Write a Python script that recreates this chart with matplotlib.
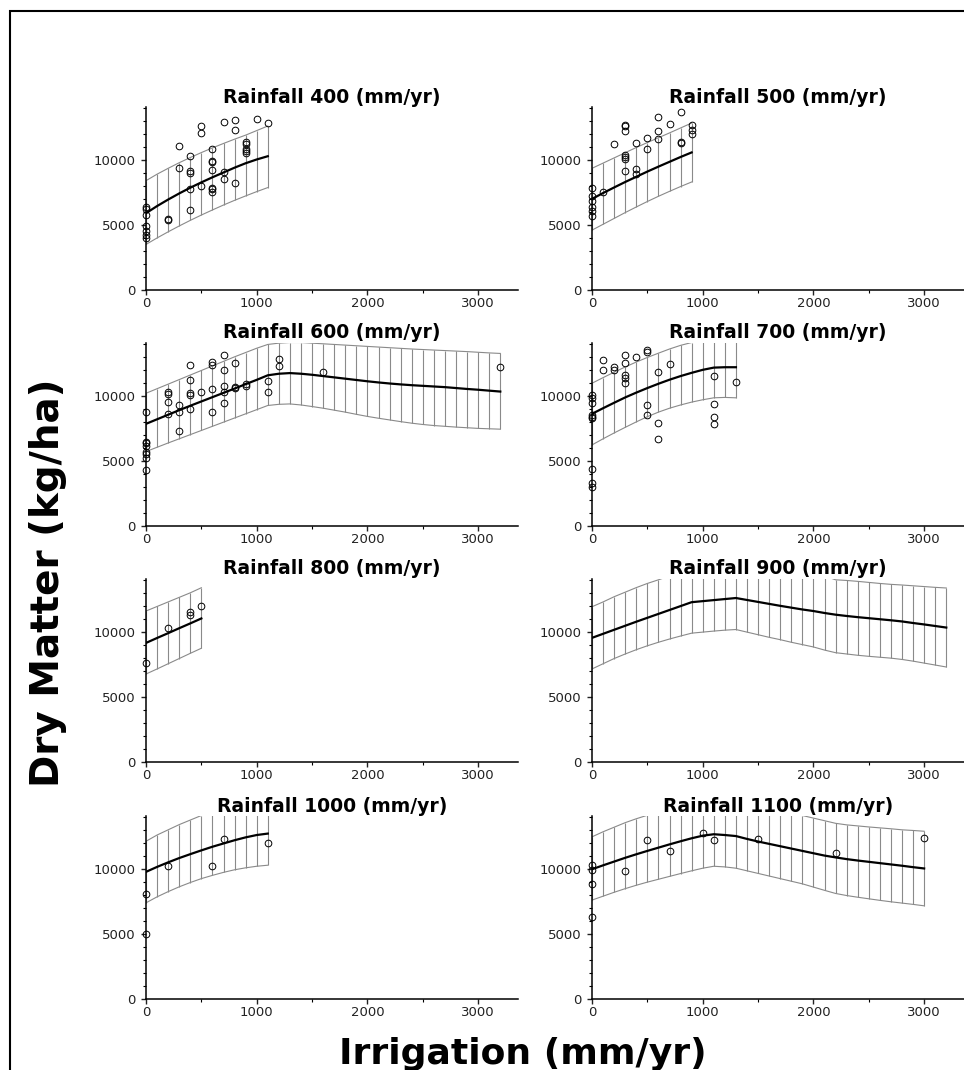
import numpy as np
import matplotlib
matplotlib.use("Agg")
import matplotlib.pyplot as plt
from matplotlib.patches import Rectangle
from matplotlib.ticker import MultipleLocator

# model grid and fitted response (kg/ha) for each rainfall level
grid_400 = np.arange(0, 1101, 100)
mean_400 = [5900, 6450, 6950, 7420, 7860, 8270, 8660, 9030, 9400, 9740, 10030, 10280]
upper_400 = [8400, 8900, 9350, 9780, 10180, 10560, 10920, 11260, 11590, 11900, 12250, 12600]
lower_400 = [3500, 4000, 4470, 4920, 5350, 5760, 6150, 6530, 6890, 7230, 7560, 7870]
obs_x_400 = [0, 0, 0, 0, 0, 0, 0, 200, 200, 300, 300, 400, 400, 400, 400, 400,
             500, 500, 500, 600, 600, 600, 600, 600, 600, 600, 700, 700, 700,
             800, 800, 800, 900, 900, 900, 900, 900, 1000, 1100]
obs_y_400 = [6400, 6200, 5800, 4900, 4500, 4200, 4000, 5480, 5350, 11030, 9380,
             10330, 9150, 9020, 7790, 6170, 12600, 12080, 8020, 10870, 9950, 9820,
             9230, 7870, 7760, 7560, 12930, 9050, 8560, 13060, 12260, 8230,
             11390, 11230, 10800, 10670, 10510, 13140, 12830]

grid_500 = np.arange(0, 901, 100)
mean_500 = [7000, 7450, 7880, 8300, 8700, 9100, 9480, 9850, 10220, 10570]
upper_500 = [9350, 9750, 10150, 10550, 10950, 11330, 11700, 12070, 12450, 12830]
lower_500 = [4600, 5050, 5500, 5950, 6380, 6800, 7200, 7580, 7950, 8300]
obs_x_500 = [0, 0, 0, 0, 0, 0, 100, 200, 300, 300, 300, 300, 300, 300, 300,
             400, 400, 400, 500, 500, 600, 600, 600, 700, 800, 800, 800, 900, 900, 900]
obs_y_500 = [7810, 7200, 6840, 6350, 6070, 5660, 7500, 11200, 12650, 12570, 12210,
             10390, 10230, 10100, 9130, 11290, 9330, 8920, 11670, 10870, 13320,
             12210, 11570, 12750, 13680, 11340, 11300, 12670, 12310, 11950]

grid_600 = np.arange(0, 3201, 100)
mean_600 = [7850, 8200, 8550, 8900, 9240, 9570, 9900, 10230, 10560, 10900, 11230,
            11580, 11700, 11750, 11700, 11620, 11520, 11420, 11320, 11220, 11120,
            11030, 10950, 10880, 10820, 10770, 10720, 10670, 10600, 10530, 10470,
            10400, 10330]
upper_600 = [10200, 10550, 10900, 11250, 11600, 11950, 12300, 12650, 13000, 13330,
             13660, 13950, 14050, 14100, 14100, 14050, 14000, 13950, 13900, 13850,
             13800, 13750, 13700, 13650, 13600, 13560, 13520, 13480, 13440, 13400,
             13350, 13300, 13260]
lower_600 = [5720, 6050, 6380, 6700, 7020, 7340, 7660, 7980, 8300, 8620, 8940, 9260,
             9350, 9380, 9300, 9180, 9050, 8900, 8750, 8580, 8420, 8280, 8150, 8020,
             7900, 7800, 7720, 7660, 7600, 7550, 7500, 7470, 7440]
obs_x_600 = [0, 0, 0, 0, 0, 0, 0, 0, 200, 200, 200, 200, 300, 300, 300,
             400, 400, 400, 400, 400, 500, 600, 600, 600, 600, 700, 700, 700, 700, 700,
             800, 800, 800, 900, 900, 1100, 1100, 1200, 1200, 1600, 3200]
obs_y_600 = [8790, 6490, 6360, 6180, 5720, 5510, 5210, 4310, 10280, 10180, 9540, 8590,
             9310, 8790, 7330, 12380, 11230, 10200, 10100, 9000, 10310, 12590, 12360,
             10490, 8790, 13130, 11950, 10770, 10310, 9460, 12510, 10690, 10620,
             10920, 10770, 11180, 10260, 12870, 12310, 11850, 12180]

grid_700 = np.arange(0, 1301, 100)
mean_700 = [8620, 9050, 9470, 9880, 10250, 10600, 10930, 11240, 11520, 11770, 12000,
            12170, 12200, 12200]
upper_700 = [10970, 11400, 11820, 12220, 12600, 12950, 13280, 13600, 13880, 14100,
             14200, 14300, 14350, 14350]
lower_700 = [6230, 6700, 7150, 7580, 8000, 8400, 8750, 9050, 9300, 9520, 9700, 9850,
             9880, 9850]
obs_x_700 = [0, 0, 0, 0, 0, 0, 0, 0, 0, 100, 100, 200, 200, 300, 300, 300, 300, 300,
             400, 500, 500, 500, 500, 600, 600, 600, 700, 1100, 1100, 1100, 1100, 1300]
obs_y_700 = [10030, 9820, 9440, 8540, 8410, 8280, 4410, 3280, 2970, 12720, 12000,
             12180, 11950, 13150, 12510, 11640, 11410, 10950, 12950, 13490, 13360,
             9260, 8510, 11870, 7950, 6720, 12460, 11490, 9360, 8410, 7870, 11080]

grid_800 = np.arange(0, 501, 100)
mean_800 = [9150, 9530, 9900, 10280, 10650, 11030]
upper_800 = [11600, 11950, 12300, 12650, 13000, 13390]
lower_800 = [6760, 7150, 7550, 7950, 8350, 8740]
obs_x_800 = [0, 200, 400, 400, 500]
obs_y_800 = [7630, 10260, 11540, 11280, 12000]

grid_900 = np.arange(0, 3201, 100)
mean_900 = [9540, 9850, 10160, 10470, 10780, 11080, 11380, 11680, 11980, 12280,
            12360, 12440, 12520, 12600, 12450, 12300, 12150, 12000, 11860, 11720,
            11600, 11450, 11320, 11220, 11130, 11050, 10970, 10890, 10800, 10680,
            10570, 10450, 10330]
upper_900 = [11930, 12300, 12700, 13050, 13400, 13720, 14000, 14300, 14300, 14300,
             14300, 14300, 14300, 14300, 14300, 14300, 14300, 14300, 14300, 14300,
             14300, 14300, 14000, 13950, 13880, 13800, 13720, 13650, 13600, 13540,
             13480, 13420, 13370]
lower_900 = [7150, 7550, 7950, 8300, 8630, 8930, 9200, 9450, 9680, 9900, 9980, 10060,
             10130, 10180, 9980, 9780, 9580, 9400, 9200, 9020, 8840, 8600, 8400, 8300,
             8200, 8120, 8050, 7980, 7880, 7750, 7600, 7450, 7300]
obs_x_900 = []
obs_y_900 = []

grid_1000 = np.arange(0, 1101, 100)
mean_1000 = [9770, 10150, 10500, 10830, 11130, 11420, 11700, 11950, 12200, 12420,
             12600, 12710]
upper_1000 = [12120, 12600, 13000, 13400, 13750, 14100, 14300, 14400, 14450, 14500,
              14500, 14500]
lower_1000 = [7390, 7850, 8250, 8620, 8950, 9250, 9500, 9730, 9930, 10080, 10200, 10280]
obs_x_1000 = [0, 0, 200, 600, 700, 1100]
obs_y_1000 = [8080, 5010, 10200, 10200, 12330, 11970]

grid_1100 = np.arange(0, 3001, 100)
mean_1100 = [9970, 10270, 10560, 10850, 11120, 11380, 11630, 11880, 12120, 12350,
             12550, 12660, 12600, 12520, 12300, 12100, 11920, 11740, 11560, 11380,
             11200, 11020, 10880, 10750, 10640, 10540, 10440, 10340, 10240, 10130, 10030]
upper_1100 = [12460, 12850, 13200, 13550, 13850, 14120, 14300, 14300, 14300, 14300,
              14300, 14300, 14300, 14300, 14300, 14300, 14300, 14300, 14300, 14100,
              13900, 13700, 13500, 13380, 13300, 13220, 13150, 13080, 13000, 12950, 12890]
lower_1100 = [7600, 7900, 8200, 8480, 8740, 8980, 9200, 9420, 9640, 9850, 10050,
              10200, 10150, 10050, 9850, 9650, 9450, 9250, 9050, 8850, 8600, 8350,
              8110, 7950, 7820, 7700, 7580, 7470, 7370, 7270, 7160]
obs_x_1100 = [0, 0, 0, 0, 300, 500, 700, 1000, 1100, 1500, 2200, 3000]
obs_y_1100 = [10280, 9900, 8800, 6320, 9850, 12200, 11380, 12760, 12200, 12330, 11250, 12380]

panels = [
    (400, grid_400, mean_400, upper_400, lower_400, obs_x_400, obs_y_400),
    (500, grid_500, mean_500, upper_500, lower_500, obs_x_500, obs_y_500),
    (600, grid_600, mean_600, upper_600, lower_600, obs_x_600, obs_y_600),
    (700, grid_700, mean_700, upper_700, lower_700, obs_x_700, obs_y_700),
    (800, grid_800, mean_800, upper_800, lower_800, obs_x_800, obs_y_800),
    (900, grid_900, mean_900, upper_900, lower_900, obs_x_900, obs_y_900),
    (1000, grid_1000, mean_1000, upper_1000, lower_1000, obs_x_1000, obs_y_1000),
    (1100, grid_1100, mean_1100, upper_1100, lower_1100, obs_x_1100, obs_y_1100),
]

W, H = 964, 1070
fig = plt.figure(figsize=(W / 100, H / 100), dpi=100)

band_col = "#8a8a8a"
col_left = [146, 592]
row_bottom = [290, 526, 762, 999]
ax_w, ax_h = 372, 183.5

for i, (rain, grid, mean, upper, lower, ox, oy) in enumerate(panels):
    r, c = divmod(i, 2)
    ax = fig.add_axes([col_left[c] / W, 1 - row_bottom[r] / H, ax_w / W, ax_h / H])

    ax.plot(grid, upper, color=band_col, lw=0.8)
    ax.plot(grid, lower, color=band_col, lw=0.8)
    ax.vlines(grid, lower, upper, color=band_col, lw=0.8)
    ax.plot(grid, mean, color="black", lw=1.6, zorder=3)
    ax.plot(ox, oy, "o", ms=4.8, mfc="none", mec="black", mew=0.7, zorder=4,
            clip_on=False)

    ax.set_xlim(0, 3360)
    ax.set_ylim(0, 14100)
    ax.set_title(f"Rainfall {rain} (mm/yr)", fontsize=13.5, fontweight="bold", pad=2)

    for s in ["top", "right"]:
        ax.spines[s].set_visible(False)
    for s in ["left", "bottom"]:
        ax.spines[s].set_linewidth(1.1)

    ax.xaxis.set_major_locator(MultipleLocator(1000))
    ax.xaxis.set_minor_locator(MultipleLocator(500))
    ax.yaxis.set_major_locator(MultipleLocator(5000))
    ax.yaxis.set_minor_locator(MultipleLocator(1000))
    ax.tick_params(which="major", length=3.8, width=1.0, labelsize=9.5, colors="#222222")
    ax.tick_params(which="minor", length=2.2, width=0.8)
    ax.tick_params(axis="x", which="major", pad=1.5)
    ax.tick_params(axis="y", which="major", pad=4)

fig.text(48 / W, 1 - 583 / H, "Dry Matter (kg/ha)", rotation=90, ha="center",
         va="center", fontsize=28, fontweight="bold")
fig.text(523 / W, 1 - 1064 / H, "Irrigation (mm/yr)", ha="center", va="baseline",
         fontsize=26, fontweight="bold")

# outer frame (runs off the right and bottom edges)
fig.patches.append(Rectangle((9.5 / W, -0.1), 1.2, 1.1 - 10.5 / H, fill=False,
                             lw=1.5, ec="black", transform=fig.transFigure))

fig.savefig("out.png", dpi=100)
